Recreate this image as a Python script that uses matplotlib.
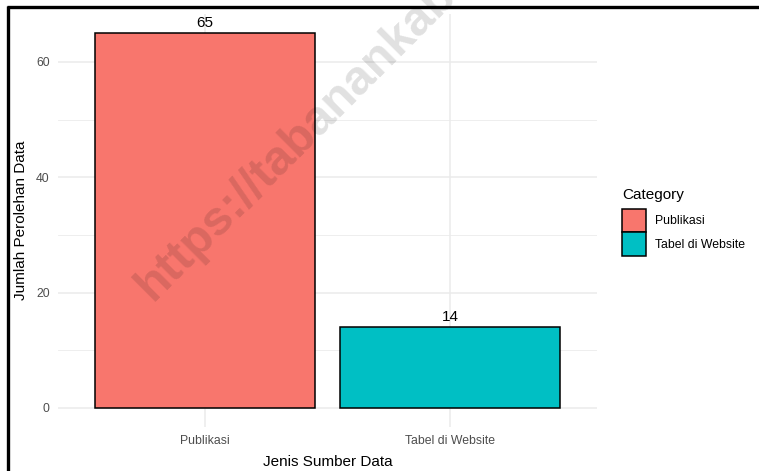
import matplotlib.pyplot as plt
from matplotlib.patches import Patch
from matplotlib.lines import Line2D

# === Data ===
categories = ["Publikasi", "Tabel di Website"]
counts = [65, 14]
colors = ["#F8766D", "#00BFC4"]

plt.rcParams['font.family'] = ['Liberation Sans', 'DejaVu Sans']

W, H = 759, 471
fig = plt.figure(figsize=(W / 100, H / 100), dpi=100)
ax = fig.add_axes([58 / W, 1 - 426.7 / H, (597 - 58) / W, (426.7 - 14.4) / H])

x = range(len(categories))
bars = ax.bar(x, counts, width=0.9, color=colors, edgecolor='black', linewidth=1.1, zorder=3)
ax.bar_label(bars, labels=[str(c) for c in counts], padding=2, fontsize=11, color='black')

# ggplot-like expansion
ax.set_xlim(-0.6, len(categories) - 0.4)
ax.set_ylim(-0.05 * max(counts), 1.05 * max(counts))

ax.set_xticks(list(x))
ax.set_xticklabels(categories)
ax.set_yticks([0, 20, 40, 60])
ax.set_yticks([10, 30, 50], minor=True)
ax.tick_params(axis='both', which='both', length=0, labelsize=8.8, labelcolor='#4D4D4D')
ax.tick_params(axis='y', pad=6)
ax.tick_params(axis='x', pad=6)

ax.grid(which='major', color='#EBEBEB', linewidth=1.1, zorder=0)
ax.grid(which='minor', axis='y', color='#EBEBEB', linewidth=0.6, zorder=0)
ax.set_axisbelow(True)
for s in ax.spines.values():
    s.set_visible(False)

ax.set_xlabel("Jenis Sumber Data", fontsize=11, labelpad=6)
ax.set_ylabel("Jumlah Perolehan Data", fontsize=11, labelpad=6)

# legend
handles = [Patch(facecolor=c, edgecolor='black', linewidth=1.1) for c in colors]
leg = fig.legend(handles, categories, title="Category", loc='upper left',
                 bbox_to_anchor=(612 / W, 1 - 178 / H), frameon=False,
                 fontsize=8.8, title_fontsize=11, handlelength=2.0, handleheight=2.6,
                 labelspacing=0.0, handletextpad=0.7, borderpad=0.3)
leg._legend_box.align = "left"
leg._legend_box.sep = 5

# watermark
fig.text(153 / W, 1 - 302 / H, "https://tabanankab.bps.go.id", fontsize=35, fontweight='bold',
         color='black', alpha=0.12, rotation=45, rotation_mode='anchor',
         ha='left', va='baseline', zorder=10)

# outer frame (cropped at right/bottom)
fig.add_artist(Line2D([7 / W, 1], [1 - 7 / H, 1 - 7 / H], color='black', linewidth=2.4,
                      solid_capstyle='butt', transform=fig.transFigure))
fig.add_artist(Line2D([8 / W, 8 / W], [0, 1 - 6 / H], color='black', linewidth=2.4,
                      solid_capstyle='butt', transform=fig.transFigure))

fig.savefig("out.png", dpi=100, facecolor='white')
